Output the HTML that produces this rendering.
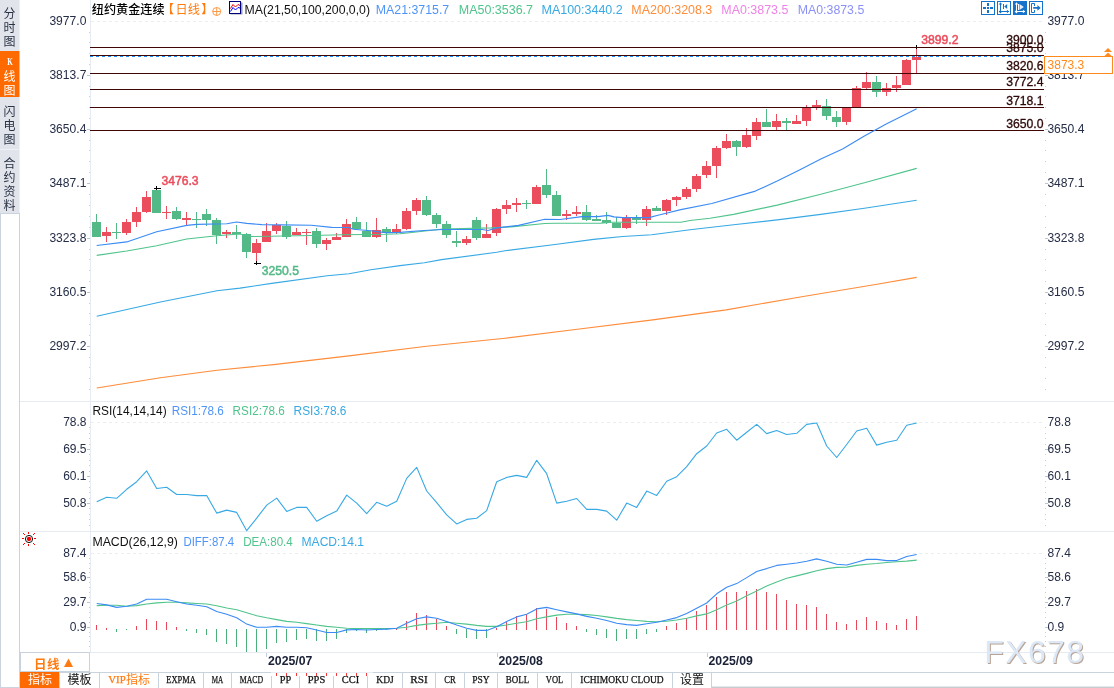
<!DOCTYPE html>
<html lang="zh-CN"><head><meta charset="utf-8"><title>纽约黄金连续 日线</title>
<style>html,body{margin:0;padding:0;background:#fff;overflow:hidden}body{width:1114px;height:688px;position:relative}</style></head>
<body>
<svg width="1114" height="688" viewBox="0 0 1114 688" style="position:absolute;left:0;top:0">
<defs><style>text{font-family:"Liberation Sans","Noto Sans CJK SC",sans-serif;font-size:12px}.cj{font-family:"Liberation Mono","Noto Sans CJK SC",monospace}.ce{shape-rendering:crispEdges}</style></defs>
<rect width="1114" height="688" fill="#fff"/>
<g class="ce">
<rect x="0" y="0" width="19" height="213" fill="#e2e4eb"/>
<rect x="19" y="0" width="1" height="213" fill="#eef0f5"/>
<rect x="0" y="51" width="19" height="46" fill="#ff6a00"/>
<rect x="19" y="51" width="1" height="46" fill="#ffb27a"/>
<rect x="0" y="149" width="19" height="1" fill="#eef0f5"/>
<rect x="0.5" y="213.5" width="19" height="473.5" fill="#fff" stroke="#cbd4de"/>
</g>
<text class="cj" x="9.5" y="17.5" text-anchor="middle" fill="#2a3346">分</text>
<text class="cj" x="9.5" y="31.5" text-anchor="middle" fill="#2a3346">时</text>
<text class="cj" x="9.5" y="45.5" text-anchor="middle" fill="#2a3346">图</text>
<text x="10" y="65.3" text-anchor="middle" fill="#ffffff" style="font-family:'Liberation Serif',serif;font-size:10.5px;font-weight:bold" textLength="5.5" lengthAdjust="spacingAndGlyphs">K</text>
<text class="cj" x="9.5" y="80.5" text-anchor="middle" fill="#ffffff">线</text>
<text class="cj" x="9.5" y="94.5" text-anchor="middle" fill="#ffffff">图</text>
<text class="cj" x="9.5" y="115.5" text-anchor="middle" fill="#2a3346">闪</text>
<text class="cj" x="9.5" y="129.5" text-anchor="middle" fill="#2a3346">电</text>
<text class="cj" x="9.5" y="143.5" text-anchor="middle" fill="#2a3346">图</text>
<text class="cj" x="9.5" y="167.5" text-anchor="middle" fill="#2a3346">合</text>
<text class="cj" x="9.5" y="181.5" text-anchor="middle" fill="#2a3346">约</text>
<text class="cj" x="9.5" y="195.5" text-anchor="middle" fill="#2a3346">资</text>
<text class="cj" x="9.5" y="209.5" text-anchor="middle" fill="#2a3346">料</text>
<g class="ce">
<rect x="20" y="401" width="1094" height="1" fill="#e6ebf1"/>
<rect x="20" y="531" width="1094" height="1" fill="#e6ebf1"/>
<rect x="20" y="652" width="1094" height="1" fill="#e6ebf1"/>
<rect x="20" y="672" width="1094" height="1" fill="#c9d3dd"/>
<rect x="712" y="687" width="402" height="1" fill="#c6cbd0"/>
<rect x="712" y="686" width="402" height="1" fill="#e6e9ec"/>
<rect x="90" y="0" width="1" height="652" fill="#e6ecf2"/>
<line x1="91" x2="1044" y1="21.5" y2="21.5" stroke="#e9eef3" stroke-dasharray="3 3"/>
<line x1="91" x2="1044" y1="422.5" y2="422.5" stroke="#e9eef3" stroke-dasharray="3 3"/>
<line x1="91" x2="1044" y1="553.5" y2="553.5" stroke="#e9eef3" stroke-dasharray="3 3"/>
</g>
<g class="ce">
<rect x="89" y="32" width="1" height="1" fill="#c3cddb"/><rect x="1045" y="32" width="1" height="1" fill="#c3cddb"/>
<rect x="89" y="42" width="1" height="1" fill="#c3cddb"/><rect x="1045" y="42" width="1" height="1" fill="#c3cddb"/>
<rect x="89" y="53" width="1" height="1" fill="#c3cddb"/><rect x="1045" y="53" width="1" height="1" fill="#c3cddb"/>
<rect x="89" y="64" width="1" height="1" fill="#c3cddb"/><rect x="1045" y="64" width="1" height="1" fill="#c3cddb"/>
<rect x="87" y="75" width="3" height="1" fill="#b9c5d3"/><rect x="1045" y="75" width="3" height="1" fill="#b9c5d3"/>
<rect x="89" y="86" width="1" height="1" fill="#c3cddb"/><rect x="1045" y="86" width="1" height="1" fill="#c3cddb"/>
<rect x="89" y="96" width="1" height="1" fill="#c3cddb"/><rect x="1045" y="96" width="1" height="1" fill="#c3cddb"/>
<rect x="89" y="107" width="1" height="1" fill="#c3cddb"/><rect x="1045" y="107" width="1" height="1" fill="#c3cddb"/>
<rect x="89" y="118" width="1" height="1" fill="#c3cddb"/><rect x="1045" y="118" width="1" height="1" fill="#c3cddb"/>
<rect x="87" y="129" width="3" height="1" fill="#b9c5d3"/><rect x="1045" y="129" width="3" height="1" fill="#b9c5d3"/>
<rect x="89" y="140" width="1" height="1" fill="#c3cddb"/><rect x="1045" y="140" width="1" height="1" fill="#c3cddb"/>
<rect x="89" y="150" width="1" height="1" fill="#c3cddb"/><rect x="1045" y="150" width="1" height="1" fill="#c3cddb"/>
<rect x="89" y="161" width="1" height="1" fill="#c3cddb"/><rect x="1045" y="161" width="1" height="1" fill="#c3cddb"/>
<rect x="89" y="172" width="1" height="1" fill="#c3cddb"/><rect x="1045" y="172" width="1" height="1" fill="#c3cddb"/>
<rect x="87" y="183" width="3" height="1" fill="#b9c5d3"/><rect x="1045" y="183" width="3" height="1" fill="#b9c5d3"/>
<rect x="89" y="194" width="1" height="1" fill="#c3cddb"/><rect x="1045" y="194" width="1" height="1" fill="#c3cddb"/>
<rect x="89" y="205" width="1" height="1" fill="#c3cddb"/><rect x="1045" y="205" width="1" height="1" fill="#c3cddb"/>
<rect x="89" y="216" width="1" height="1" fill="#c3cddb"/><rect x="1045" y="216" width="1" height="1" fill="#c3cddb"/>
<rect x="89" y="227" width="1" height="1" fill="#c3cddb"/><rect x="1045" y="227" width="1" height="1" fill="#c3cddb"/>
<rect x="87" y="238" width="3" height="1" fill="#b9c5d3"/><rect x="1045" y="238" width="3" height="1" fill="#b9c5d3"/>
<rect x="89" y="249" width="1" height="1" fill="#c3cddb"/><rect x="1045" y="249" width="1" height="1" fill="#c3cddb"/>
<rect x="89" y="259" width="1" height="1" fill="#c3cddb"/><rect x="1045" y="259" width="1" height="1" fill="#c3cddb"/>
<rect x="89" y="270" width="1" height="1" fill="#c3cddb"/><rect x="1045" y="270" width="1" height="1" fill="#c3cddb"/>
<rect x="89" y="281" width="1" height="1" fill="#c3cddb"/><rect x="1045" y="281" width="1" height="1" fill="#c3cddb"/>
<rect x="87" y="292" width="3" height="1" fill="#b9c5d3"/><rect x="1045" y="292" width="3" height="1" fill="#b9c5d3"/>
<rect x="89" y="303" width="1" height="1" fill="#c3cddb"/><rect x="1045" y="303" width="1" height="1" fill="#c3cddb"/>
<rect x="89" y="313" width="1" height="1" fill="#c3cddb"/><rect x="1045" y="313" width="1" height="1" fill="#c3cddb"/>
<rect x="89" y="324" width="1" height="1" fill="#c3cddb"/><rect x="1045" y="324" width="1" height="1" fill="#c3cddb"/>
<rect x="89" y="335" width="1" height="1" fill="#c3cddb"/><rect x="1045" y="335" width="1" height="1" fill="#c3cddb"/>
<rect x="87" y="346" width="3" height="1" fill="#b9c5d3"/><rect x="1045" y="346" width="3" height="1" fill="#b9c5d3"/>
<rect x="89" y="357" width="1" height="1" fill="#c3cddb"/><rect x="1045" y="357" width="1" height="1" fill="#c3cddb"/>
<rect x="89" y="367" width="1" height="1" fill="#c3cddb"/><rect x="1045" y="367" width="1" height="1" fill="#c3cddb"/>
<rect x="89" y="378" width="1" height="1" fill="#c3cddb"/><rect x="1045" y="378" width="1" height="1" fill="#c3cddb"/>
<rect x="89" y="389" width="1" height="1" fill="#c3cddb"/><rect x="1045" y="389" width="1" height="1" fill="#c3cddb"/>
<rect x="89" y="427" width="1" height="1" fill="#c3cddb"/>
<rect x="1045" y="427" width="1" height="1" fill="#c3cddb"/>
<rect x="89" y="433" width="1" height="1" fill="#c3cddb"/>
<rect x="1045" y="433" width="1" height="1" fill="#c3cddb"/>
<rect x="89" y="438" width="1" height="1" fill="#c3cddb"/>
<rect x="1045" y="438" width="1" height="1" fill="#c3cddb"/>
<rect x="89" y="444" width="1" height="1" fill="#c3cddb"/>
<rect x="1045" y="444" width="1" height="1" fill="#c3cddb"/>
<rect x="87" y="449" width="3" height="1" fill="#b9c5d3"/>
<rect x="1045" y="449" width="3" height="1" fill="#b9c5d3"/>
<rect x="89" y="454" width="1" height="1" fill="#c3cddb"/>
<rect x="1045" y="454" width="1" height="1" fill="#c3cddb"/>
<rect x="89" y="460" width="1" height="1" fill="#c3cddb"/>
<rect x="1045" y="460" width="1" height="1" fill="#c3cddb"/>
<rect x="89" y="465" width="1" height="1" fill="#c3cddb"/>
<rect x="1045" y="465" width="1" height="1" fill="#c3cddb"/>
<rect x="89" y="471" width="1" height="1" fill="#c3cddb"/>
<rect x="1045" y="471" width="1" height="1" fill="#c3cddb"/>
<rect x="87" y="476" width="3" height="1" fill="#b9c5d3"/>
<rect x="1045" y="476" width="3" height="1" fill="#b9c5d3"/>
<rect x="89" y="481" width="1" height="1" fill="#c3cddb"/>
<rect x="1045" y="481" width="1" height="1" fill="#c3cddb"/>
<rect x="89" y="487" width="1" height="1" fill="#c3cddb"/>
<rect x="1045" y="487" width="1" height="1" fill="#c3cddb"/>
<rect x="89" y="492" width="1" height="1" fill="#c3cddb"/>
<rect x="1045" y="492" width="1" height="1" fill="#c3cddb"/>
<rect x="89" y="498" width="1" height="1" fill="#c3cddb"/>
<rect x="1045" y="498" width="1" height="1" fill="#c3cddb"/>
<rect x="87" y="503" width="3" height="1" fill="#b9c5d3"/>
<rect x="1045" y="503" width="3" height="1" fill="#b9c5d3"/>
<rect x="89" y="508" width="1" height="1" fill="#c3cddb"/>
<rect x="1045" y="508" width="1" height="1" fill="#c3cddb"/>
<rect x="89" y="514" width="1" height="1" fill="#c3cddb"/>
<rect x="1045" y="514" width="1" height="1" fill="#c3cddb"/>
<rect x="89" y="519" width="1" height="1" fill="#c3cddb"/>
<rect x="1045" y="519" width="1" height="1" fill="#c3cddb"/>
<rect x="89" y="525" width="1" height="1" fill="#c3cddb"/>
<rect x="1045" y="525" width="1" height="1" fill="#c3cddb"/>
<rect x="89" y="558" width="1" height="1" fill="#c3cddb"/>
<rect x="1045" y="558" width="1" height="1" fill="#c3cddb"/>
<rect x="89" y="563" width="1" height="1" fill="#c3cddb"/>
<rect x="1045" y="563" width="1" height="1" fill="#c3cddb"/>
<rect x="89" y="568" width="1" height="1" fill="#c3cddb"/>
<rect x="1045" y="568" width="1" height="1" fill="#c3cddb"/>
<rect x="89" y="572" width="1" height="1" fill="#c3cddb"/>
<rect x="1045" y="572" width="1" height="1" fill="#c3cddb"/>
<rect x="87" y="577" width="3" height="1" fill="#b9c5d3"/>
<rect x="1045" y="577" width="3" height="1" fill="#b9c5d3"/>
<rect x="89" y="582" width="1" height="1" fill="#c3cddb"/>
<rect x="1045" y="582" width="1" height="1" fill="#c3cddb"/>
<rect x="89" y="587" width="1" height="1" fill="#c3cddb"/>
<rect x="1045" y="587" width="1" height="1" fill="#c3cddb"/>
<rect x="89" y="592" width="1" height="1" fill="#c3cddb"/>
<rect x="1045" y="592" width="1" height="1" fill="#c3cddb"/>
<rect x="89" y="597" width="1" height="1" fill="#c3cddb"/>
<rect x="1045" y="597" width="1" height="1" fill="#c3cddb"/>
<rect x="87" y="602" width="3" height="1" fill="#b9c5d3"/>
<rect x="1045" y="602" width="3" height="1" fill="#b9c5d3"/>
<rect x="89" y="607" width="1" height="1" fill="#c3cddb"/>
<rect x="1045" y="607" width="1" height="1" fill="#c3cddb"/>
<rect x="89" y="612" width="1" height="1" fill="#c3cddb"/>
<rect x="1045" y="612" width="1" height="1" fill="#c3cddb"/>
<rect x="89" y="617" width="1" height="1" fill="#c3cddb"/>
<rect x="1045" y="617" width="1" height="1" fill="#c3cddb"/>
<rect x="89" y="622" width="1" height="1" fill="#c3cddb"/>
<rect x="1045" y="622" width="1" height="1" fill="#c3cddb"/>
<rect x="87" y="627" width="3" height="1" fill="#b9c5d3"/>
<rect x="1045" y="627" width="3" height="1" fill="#b9c5d3"/>
<rect x="89" y="632" width="1" height="1" fill="#c3cddb"/>
<rect x="1045" y="632" width="1" height="1" fill="#c3cddb"/>
<rect x="89" y="636" width="1" height="1" fill="#c3cddb"/>
<rect x="1045" y="636" width="1" height="1" fill="#c3cddb"/>
<rect x="89" y="641" width="1" height="1" fill="#c3cddb"/>
<rect x="1045" y="641" width="1" height="1" fill="#c3cddb"/>
<rect x="89" y="646" width="1" height="1" fill="#c3cddb"/>
<rect x="1045" y="646" width="1" height="1" fill="#c3cddb"/>
</g>
<text x="49.4" y="24.9" fill="#252d47" textLength="37" lengthAdjust="spacingAndGlyphs">3977.0</text>
<text x="1047.4" y="24.9" fill="#252d47" textLength="37" lengthAdjust="spacingAndGlyphs">3977.0</text>
<text x="49.4" y="79.0" fill="#252d47" textLength="37" lengthAdjust="spacingAndGlyphs">3813.7</text>
<text x="1047.4" y="79.0" fill="#252d47" textLength="37" lengthAdjust="spacingAndGlyphs">3813.7</text>
<text x="49.4" y="133.1" fill="#252d47" textLength="37" lengthAdjust="spacingAndGlyphs">3650.4</text>
<text x="1047.4" y="133.1" fill="#252d47" textLength="37" lengthAdjust="spacingAndGlyphs">3650.4</text>
<text x="49.4" y="187.0" fill="#252d47" textLength="37" lengthAdjust="spacingAndGlyphs">3487.1</text>
<text x="1047.4" y="187.0" fill="#252d47" textLength="37" lengthAdjust="spacingAndGlyphs">3487.1</text>
<text x="49.4" y="241.9" fill="#252d47" textLength="37" lengthAdjust="spacingAndGlyphs">3323.8</text>
<text x="1047.4" y="241.9" fill="#252d47" textLength="37" lengthAdjust="spacingAndGlyphs">3323.8</text>
<text x="49.4" y="296.1" fill="#252d47" textLength="37" lengthAdjust="spacingAndGlyphs">3160.5</text>
<text x="1047.4" y="296.1" fill="#252d47" textLength="37" lengthAdjust="spacingAndGlyphs">3160.5</text>
<text x="49.4" y="349.8" fill="#252d47" textLength="37" lengthAdjust="spacingAndGlyphs">2997.2</text>
<text x="1047.4" y="349.8" fill="#252d47" textLength="37" lengthAdjust="spacingAndGlyphs">2997.2</text>
<text x="86.5" y="425.8" text-anchor="end" fill="#252d47">78.8</text>
<text x="1047.5" y="425.8" fill="#252d47">78.8</text>
<text x="86.5" y="452.8" text-anchor="end" fill="#252d47">69.5</text>
<text x="1047.5" y="452.8" fill="#252d47">69.5</text>
<text x="86.5" y="479.8" text-anchor="end" fill="#252d47">60.1</text>
<text x="1047.5" y="479.8" fill="#252d47">60.1</text>
<text x="86.5" y="506.8" text-anchor="end" fill="#252d47">50.8</text>
<text x="1047.5" y="506.8" fill="#252d47">50.8</text>
<text x="86.5" y="556.9" text-anchor="end" fill="#252d47">87.4</text>
<text x="1047.5" y="556.9" fill="#252d47">87.4</text>
<text x="86.5" y="581.0" text-anchor="end" fill="#252d47">58.6</text>
<text x="1047.5" y="581.0" fill="#252d47">58.6</text>
<text x="86.5" y="606.0" text-anchor="end" fill="#252d47">29.7</text>
<text x="1047.5" y="606.0" fill="#252d47">29.7</text>
<text x="86.5" y="630.9" text-anchor="end" fill="#252d47">0.9</text>
<text x="1047.5" y="630.9" fill="#252d47">0.9</text>
<g class="ce">
<rect x="96" y="214" width="1" height="23" fill="#53b987"/>
<rect x="92" y="222" width="9" height="15" fill="#53b987"/>
<rect x="106" y="227" width="1" height="15" fill="#eb4d5c"/>
<rect x="102" y="232" width="9" height="4" fill="#eb4d5c"/>
<rect x="116" y="223" width="1" height="16" fill="#53b987"/>
<rect x="112" y="232" width="9" height="1" fill="#53b987"/>
<rect x="126" y="219" width="1" height="16" fill="#eb4d5c"/>
<rect x="122" y="222" width="9" height="11" fill="#eb4d5c"/>
<rect x="136" y="207" width="1" height="20" fill="#eb4d5c"/>
<rect x="132" y="212" width="9" height="10" fill="#eb4d5c"/>
<rect x="146" y="191" width="1" height="22" fill="#eb4d5c"/>
<rect x="142" y="197" width="9" height="15" fill="#eb4d5c"/>
<rect x="156" y="188" width="1" height="25" fill="#53b987"/>
<rect x="152" y="190" width="9" height="23" fill="#53b987"/>
<rect x="166" y="206" width="1" height="13" fill="#eb4d5c"/>
<rect x="162" y="212" width="9" height="1" fill="#eb4d5c"/>
<rect x="176" y="207" width="1" height="13" fill="#53b987"/>
<rect x="172" y="211" width="9" height="8" fill="#53b987"/>
<rect x="186" y="212" width="1" height="13" fill="#eb4d5c"/>
<rect x="182" y="218" width="9" height="2" fill="#eb4d5c"/>
<rect x="196" y="212" width="1" height="16" fill="#53b987"/>
<rect x="192" y="219" width="9" height="1" fill="#53b987"/>
<rect x="206" y="209" width="1" height="17" fill="#53b987"/>
<rect x="202" y="214" width="9" height="6" fill="#53b987"/>
<rect x="216" y="218" width="1" height="26" fill="#53b987"/>
<rect x="212" y="220" width="9" height="15" fill="#53b987"/>
<rect x="226" y="230" width="1" height="8" fill="#eb4d5c"/>
<rect x="222" y="232" width="9" height="2" fill="#eb4d5c"/>
<rect x="236" y="225" width="1" height="14" fill="#53b987"/>
<rect x="232" y="232" width="9" height="2" fill="#53b987"/>
<rect x="246" y="233" width="1" height="25" fill="#53b987"/>
<rect x="242" y="234" width="9" height="18" fill="#53b987"/>
<rect x="256" y="239" width="1" height="24" fill="#eb4d5c"/>
<rect x="252" y="243" width="9" height="10" fill="#eb4d5c"/>
<rect x="266" y="223" width="1" height="19" fill="#eb4d5c"/>
<rect x="262" y="231" width="9" height="11" fill="#eb4d5c"/>
<rect x="276" y="223" width="1" height="11" fill="#eb4d5c"/>
<rect x="272" y="225" width="9" height="6" fill="#eb4d5c"/>
<rect x="286" y="221" width="1" height="18" fill="#53b987"/>
<rect x="282" y="226" width="9" height="11" fill="#53b987"/>
<rect x="296" y="228" width="1" height="7" fill="#eb4d5c"/>
<rect x="292" y="232" width="9" height="3" fill="#eb4d5c"/>
<rect x="306" y="229" width="1" height="16" fill="#eb4d5c"/>
<rect x="302" y="232" width="9" height="1" fill="#eb4d5c"/>
<rect x="316" y="228" width="1" height="20" fill="#53b987"/>
<rect x="312" y="231" width="9" height="13" fill="#53b987"/>
<rect x="326" y="238" width="1" height="12" fill="#eb4d5c"/>
<rect x="322" y="240" width="9" height="4" fill="#eb4d5c"/>
<rect x="336" y="233" width="1" height="7" fill="#eb4d5c"/>
<rect x="332" y="237" width="9" height="3" fill="#eb4d5c"/>
<rect x="346" y="219" width="1" height="18" fill="#eb4d5c"/>
<rect x="342" y="224" width="9" height="13" fill="#eb4d5c"/>
<rect x="356" y="217" width="1" height="12" fill="#53b987"/>
<rect x="352" y="222" width="9" height="7" fill="#53b987"/>
<rect x="366" y="222" width="1" height="15" fill="#53b987"/>
<rect x="362" y="231" width="9" height="6" fill="#53b987"/>
<rect x="376" y="218" width="1" height="20" fill="#eb4d5c"/>
<rect x="372" y="230" width="9" height="7" fill="#eb4d5c"/>
<rect x="386" y="227" width="1" height="15" fill="#53b987"/>
<rect x="382" y="229" width="9" height="4" fill="#53b987"/>
<rect x="396" y="224" width="1" height="10" fill="#eb4d5c"/>
<rect x="392" y="229" width="9" height="4" fill="#eb4d5c"/>
<rect x="406" y="208" width="1" height="22" fill="#eb4d5c"/>
<rect x="402" y="211" width="9" height="18" fill="#eb4d5c"/>
<rect x="416" y="198" width="1" height="17" fill="#eb4d5c"/>
<rect x="412" y="200" width="9" height="11" fill="#eb4d5c"/>
<rect x="426" y="196" width="1" height="20" fill="#53b987"/>
<rect x="422" y="200" width="9" height="15" fill="#53b987"/>
<rect x="436" y="213" width="1" height="15" fill="#53b987"/>
<rect x="432" y="215" width="9" height="9" fill="#53b987"/>
<rect x="446" y="221" width="1" height="17" fill="#53b987"/>
<rect x="442" y="224" width="9" height="11" fill="#53b987"/>
<rect x="456" y="231" width="1" height="16" fill="#53b987"/>
<rect x="452" y="241" width="9" height="2" fill="#53b987"/>
<rect x="466" y="236" width="1" height="9" fill="#eb4d5c"/>
<rect x="462" y="239" width="9" height="4" fill="#eb4d5c"/>
<rect x="476" y="217" width="1" height="23" fill="#53b987"/>
<rect x="472" y="220" width="9" height="18" fill="#53b987"/>
<rect x="486" y="224" width="1" height="14" fill="#eb4d5c"/>
<rect x="482" y="234" width="9" height="4" fill="#eb4d5c"/>
<rect x="496" y="208" width="1" height="28" fill="#eb4d5c"/>
<rect x="492" y="209" width="9" height="24" fill="#eb4d5c"/>
<rect x="506" y="200" width="1" height="14" fill="#eb4d5c"/>
<rect x="502" y="205" width="9" height="4" fill="#eb4d5c"/>
<rect x="516" y="198" width="1" height="14" fill="#eb4d5c"/>
<rect x="512" y="203" width="9" height="2" fill="#eb4d5c"/>
<rect x="526" y="200" width="1" height="9" fill="#53b987"/>
<rect x="522" y="203" width="9" height="1" fill="#53b987"/>
<rect x="536" y="185" width="1" height="19" fill="#eb4d5c"/>
<rect x="532" y="187" width="9" height="17" fill="#eb4d5c"/>
<rect x="546" y="169" width="1" height="29" fill="#53b987"/>
<rect x="542" y="185" width="9" height="10" fill="#53b987"/>
<rect x="556" y="191" width="1" height="25" fill="#53b987"/>
<rect x="552" y="195" width="9" height="21" fill="#53b987"/>
<rect x="566" y="210" width="1" height="10" fill="#eb4d5c"/>
<rect x="562" y="214" width="9" height="2" fill="#eb4d5c"/>
<rect x="576" y="206" width="1" height="10" fill="#eb4d5c"/>
<rect x="572" y="212" width="9" height="2" fill="#eb4d5c"/>
<rect x="586" y="205" width="1" height="16" fill="#53b987"/>
<rect x="582" y="212" width="9" height="8" fill="#53b987"/>
<rect x="596" y="215" width="1" height="6" fill="#53b987"/>
<rect x="592" y="219" width="9" height="2" fill="#53b987"/>
<rect x="606" y="212" width="1" height="12" fill="#53b987"/>
<rect x="602" y="220" width="9" height="3" fill="#53b987"/>
<rect x="616" y="217" width="1" height="11" fill="#53b987"/>
<rect x="612" y="223" width="9" height="5" fill="#53b987"/>
<rect x="626" y="215" width="1" height="14" fill="#eb4d5c"/>
<rect x="622" y="217" width="9" height="11" fill="#eb4d5c"/>
<rect x="636" y="215" width="1" height="9" fill="#53b987"/>
<rect x="632" y="218" width="9" height="2" fill="#53b987"/>
<rect x="646" y="206" width="1" height="20" fill="#eb4d5c"/>
<rect x="642" y="209" width="9" height="11" fill="#eb4d5c"/>
<rect x="656" y="206" width="1" height="5" fill="#53b987"/>
<rect x="652" y="208" width="9" height="3" fill="#53b987"/>
<rect x="666" y="199" width="1" height="16" fill="#eb4d5c"/>
<rect x="662" y="200" width="9" height="11" fill="#eb4d5c"/>
<rect x="676" y="196" width="1" height="10" fill="#eb4d5c"/>
<rect x="672" y="197" width="9" height="3" fill="#eb4d5c"/>
<rect x="686" y="187" width="1" height="12" fill="#eb4d5c"/>
<rect x="682" y="189" width="9" height="8" fill="#eb4d5c"/>
<rect x="696" y="174" width="1" height="18" fill="#eb4d5c"/>
<rect x="692" y="176" width="9" height="13" fill="#eb4d5c"/>
<rect x="706" y="161" width="1" height="17" fill="#eb4d5c"/>
<rect x="702" y="166" width="9" height="9" fill="#eb4d5c"/>
<rect x="716" y="146" width="1" height="32" fill="#eb4d5c"/>
<rect x="712" y="148" width="9" height="18" fill="#eb4d5c"/>
<rect x="726" y="134" width="1" height="15" fill="#eb4d5c"/>
<rect x="722" y="141" width="9" height="7" fill="#eb4d5c"/>
<rect x="736" y="140" width="1" height="16" fill="#53b987"/>
<rect x="732" y="141" width="9" height="6" fill="#53b987"/>
<rect x="746" y="128" width="1" height="20" fill="#eb4d5c"/>
<rect x="742" y="135" width="9" height="12" fill="#eb4d5c"/>
<rect x="756" y="118" width="1" height="22" fill="#eb4d5c"/>
<rect x="752" y="122" width="9" height="14" fill="#eb4d5c"/>
<rect x="766" y="109" width="1" height="18" fill="#53b987"/>
<rect x="762" y="122" width="9" height="5" fill="#53b987"/>
<rect x="776" y="114" width="1" height="16" fill="#eb4d5c"/>
<rect x="772" y="121" width="9" height="6" fill="#eb4d5c"/>
<rect x="786" y="118" width="1" height="12" fill="#53b987"/>
<rect x="782" y="121" width="9" height="2" fill="#53b987"/>
<rect x="796" y="115" width="1" height="9" fill="#eb4d5c"/>
<rect x="792" y="121" width="9" height="3" fill="#eb4d5c"/>
<rect x="806" y="105" width="1" height="21" fill="#eb4d5c"/>
<rect x="802" y="108" width="9" height="13" fill="#eb4d5c"/>
<rect x="816" y="100" width="1" height="10" fill="#eb4d5c"/>
<rect x="812" y="105" width="9" height="2" fill="#eb4d5c"/>
<rect x="826" y="99" width="1" height="21" fill="#53b987"/>
<rect x="822" y="106" width="9" height="10" fill="#53b987"/>
<rect x="836" y="111" width="1" height="16" fill="#53b987"/>
<rect x="832" y="117" width="9" height="5" fill="#53b987"/>
<rect x="846" y="108" width="1" height="17" fill="#eb4d5c"/>
<rect x="842" y="108" width="9" height="14" fill="#eb4d5c"/>
<rect x="856" y="86" width="1" height="21" fill="#eb4d5c"/>
<rect x="852" y="88" width="9" height="19" fill="#eb4d5c"/>
<rect x="866" y="72" width="1" height="17" fill="#eb4d5c"/>
<rect x="862" y="82" width="9" height="6" fill="#eb4d5c"/>
<rect x="876" y="76" width="1" height="21" fill="#53b987"/>
<rect x="872" y="82" width="9" height="10" fill="#53b987"/>
<rect x="886" y="83" width="1" height="13" fill="#eb4d5c"/>
<rect x="882" y="88" width="9" height="4" fill="#eb4d5c"/>
<rect x="896" y="76" width="1" height="16" fill="#eb4d5c"/>
<rect x="892" y="85" width="9" height="3" fill="#eb4d5c"/>
<rect x="906" y="59" width="1" height="26" fill="#eb4d5c"/>
<rect x="902" y="60" width="9" height="25" fill="#eb4d5c"/>
<rect x="916" y="47" width="1" height="26" fill="#eb4d5c"/>
<rect x="912" y="57" width="9" height="3" fill="#eb4d5c"/>
<rect x="154" y="188" width="7" height="1" fill="#000"/><rect x="156" y="186" width="1" height="4" fill="#000"/>
<rect x="254" y="263" width="7" height="1" fill="#000"/><rect x="256" y="261" width="1" height="4" fill="#000"/>
<rect x="916" y="45" width="1" height="4" fill="#000"/>
</g>
<text x="161.4" y="185" fill="#eb4d5c" stroke="#eb4d5c" stroke-width="0.5" textLength="37.2" lengthAdjust="spacingAndGlyphs">3476.3</text>
<text x="261.8" y="274.7" fill="#53b987" stroke="#53b987" stroke-width="0.5" textLength="37.2" lengthAdjust="spacingAndGlyphs">3250.5</text>
<text x="921.3" y="43.5" fill="#eb4d5c" stroke="#eb4d5c" stroke-width="0.5" textLength="37.2" lengthAdjust="spacingAndGlyphs">3899.2</text>
<g class="ce">
<rect x="90" y="47" width="954" height="1" fill="#400505"/>
<rect x="90" y="55" width="954" height="1" fill="#400505"/>
<rect x="90" y="73" width="954" height="1" fill="#400505"/>
<rect x="90" y="89" width="954" height="1" fill="#400505"/>
<rect x="90" y="107" width="954" height="1" fill="#400505"/>
<rect x="90" y="130" width="954" height="1" fill="#400505"/>
<line x1="90" x2="1044" y1="56.5" y2="56.5" stroke="#1e8fff" stroke-dasharray="3 3"/>
</g>
<text x="1006.2" y="44.2" fill="#2e0808" stroke="#2e0808" stroke-width="0.3" textLength="37.3" lengthAdjust="spacingAndGlyphs">3900.0</text>
<text x="1006.2" y="52.2" fill="#2e0808" stroke="#2e0808" stroke-width="0.3" textLength="37.3" lengthAdjust="spacingAndGlyphs">3875.0</text>
<text x="1006.2" y="70.2" fill="#2e0808" stroke="#2e0808" stroke-width="0.3" textLength="37.3" lengthAdjust="spacingAndGlyphs">3820.6</text>
<text x="1006.2" y="86.2" fill="#2e0808" stroke="#2e0808" stroke-width="0.3" textLength="37.3" lengthAdjust="spacingAndGlyphs">3772.4</text>
<text x="1006.2" y="104.7" fill="#2e0808" stroke="#2e0808" stroke-width="0.3" textLength="37.3" lengthAdjust="spacingAndGlyphs">3718.1</text>
<text x="1006.2" y="127.7" fill="#2e0808" stroke="#2e0808" stroke-width="0.3" textLength="37.3" lengthAdjust="spacingAndGlyphs">3650.0</text>
<polyline points="96.7,388.0 160.4,377.8 217.0,370.2 273.5,364.6 349.0,355.9 424.4,346.5 505.0,338.2 575.4,329.5 650.8,320.1 726.2,309.9 801.7,296.7 877.0,284.3 916.7,277.4" fill="none" stroke="#ff8c3a" stroke-width="1.1" stroke-linejoin="round"/>
<polyline points="96.7,316.3 160.4,302.0 217.0,290.7 240.0,288.1 273.5,283.1 327.2,275.7 349.0,273.7 370.8,269.8 400.0,265.6 424.4,262.8 441.5,259.6 496.7,252.3 505.0,250.8 555.0,244.5 593.6,239.4 622.7,236.5 651.7,234.7 690.0,229.7 733.6,224.7 777.2,219.9 820.8,214.4 864.4,208.3 916.7,200.2" fill="none" stroke="#38a9e4" stroke-width="1.1" stroke-linejoin="round"/>
<polyline points="96.7,255.4 126.7,251.0 156.7,245.8 186.7,239.0 216.7,235.8 240.0,234.0 251.6,236.5 312.7,235.5 341.7,234.8 385.3,234.3 400.0,233.8 409.5,232.7 443.0,229.0 491.0,227.9 511.3,226.9 544.7,223.5 555.0,223.3 601.0,223.1 611.0,222.2 680.8,222.2 690.0,220.5 710.0,218.3 733.6,214.4 777.2,205.1 820.8,194.2 864.4,182.8 916.7,168.4" fill="none" stroke="#4fc48c" stroke-width="1.1" stroke-linejoin="round"/>
<polyline points="96.7,245.5 126.7,241.9 156.7,231.7 186.7,225.4 196.7,224.4 226.7,223.7 236.7,222.0 246.7,223.4 261.8,224.6 282.2,224.9 311.2,225.3 331.6,227.4 348.3,227.5 353.4,229.2 370.8,230.7 385.3,232.6 400.0,232.4 424.0,230.5 443.0,229.5 482.2,229.5 488.0,230.5 496.7,227.9 518.5,225.4 544.7,219.3 560.0,219.5 582.0,216.6 598.0,216.6 608.0,215.4 614.0,216.9 622.7,217.6 648.8,217.6 659.0,215.0 680.8,209.6 711.8,203.5 755.4,191.1 777.2,181.1 799.0,170.2 820.8,158.9 842.6,149.0 864.4,136.0 886.2,124.0 916.7,108.8" fill="none" stroke="#3b8bf5" stroke-width="1.1" stroke-linejoin="round"/>
<polyline points="96.7,501.8 106.7,497.3 116.7,498.3 126.7,489.3 136.7,481.7 146.7,470.9 156.7,488.5 166.7,487.3 176.7,494.5 186.7,494.5 196.7,495.6 206.7,495.6 216.7,513.1 226.7,510.1 236.7,512.4 246.7,530.7 256.7,518.2 266.7,505.1 276.7,498.1 286.7,511.4 296.7,507.4 306.7,507.4 316.7,521.2 326.7,515.7 336.7,511.1 346.7,495.1 356.7,503.1 366.7,513.6 376.7,502.3 386.7,506.3 396.7,501.3 406.7,478.4 416.7,467.4 426.7,491.0 436.7,502.6 446.7,514.9 456.7,523.9 466.7,519.4 476.7,518.2 486.7,510.6 496.7,481.7 506.7,477.4 516.7,475.4 526.7,477.4 536.7,460.3 546.7,473.7 556.7,503.1 566.7,501.3 576.7,498.5 586.7,509.4 596.7,509.4 606.7,511.1 616.7,520.2 626.7,503.1 636.7,507.4 646.7,491.1 656.7,495.4 666.7,481.3 676.7,476.7 686.7,466.6 696.7,453.7 706.7,446.0 716.7,433.0 726.7,429.3 736.7,440.2 746.7,432.2 756.7,424.4 766.7,433.6 776.7,430.5 786.7,434.5 796.7,433.3 806.7,424.4 816.7,423.0 826.7,446.0 836.7,457.5 846.7,444.5 856.7,431.0 866.7,428.2 876.7,445.1 886.7,442.2 896.7,440.2 906.7,425.3 916.7,423.0" fill="none" stroke="#38a9e4" stroke-width="1.1" stroke-linejoin="round"/>
<g class="ce">
<rect x="96" y="625" width="1" height="5" fill="#e8485a"/>
<rect x="106" y="628" width="1" height="2" fill="#e8485a"/>
<rect x="116" y="629" width="1" height="3" fill="#4db07c"/>
<rect x="126" y="629" width="1" height="1" fill="#4db07c"/>
<rect x="136" y="626" width="1" height="4" fill="#e8485a"/>
<rect x="146" y="619" width="1" height="11" fill="#e8485a"/>
<rect x="156" y="621" width="1" height="9" fill="#e8485a"/>
<rect x="166" y="622" width="1" height="8" fill="#e8485a"/>
<rect x="176" y="627" width="1" height="3" fill="#e8485a"/>
<rect x="186" y="629" width="1" height="2" fill="#4db07c"/>
<rect x="196" y="629" width="1" height="4" fill="#4db07c"/>
<rect x="206" y="629" width="1" height="6" fill="#4db07c"/>
<rect x="216" y="629" width="1" height="13" fill="#4db07c"/>
<rect x="226" y="629" width="1" height="15" fill="#4db07c"/>
<rect x="236" y="629" width="1" height="18" fill="#4db07c"/>
<rect x="246" y="629" width="1" height="23" fill="#4db07c"/>
<rect x="256" y="629" width="1" height="23" fill="#4db07c"/>
<rect x="266" y="629" width="1" height="20" fill="#4db07c"/>
<rect x="276" y="629" width="1" height="14" fill="#4db07c"/>
<rect x="286" y="629" width="1" height="13" fill="#4db07c"/>
<rect x="296" y="629" width="1" height="11" fill="#4db07c"/>
<rect x="306" y="629" width="1" height="10" fill="#4db07c"/>
<rect x="316" y="629" width="1" height="12" fill="#4db07c"/>
<rect x="326" y="629" width="1" height="12" fill="#4db07c"/>
<rect x="336" y="629" width="1" height="10" fill="#4db07c"/>
<rect x="346" y="629" width="1" height="4" fill="#4db07c"/>
<rect x="356" y="629" width="1" height="2" fill="#4db07c"/>
<rect x="366" y="629" width="1" height="4" fill="#4db07c"/>
<rect x="376" y="629" width="1" height="2" fill="#4db07c"/>
<rect x="386" y="629" width="1" height="1" fill="#4db07c"/>
<rect x="396" y="628" width="1" height="2" fill="#e8485a"/>
<rect x="406" y="621" width="1" height="9" fill="#e8485a"/>
<rect x="416" y="613" width="1" height="17" fill="#e8485a"/>
<rect x="426" y="615" width="1" height="15" fill="#e8485a"/>
<rect x="436" y="619" width="1" height="11" fill="#e8485a"/>
<rect x="446" y="626" width="1" height="4" fill="#e8485a"/>
<rect x="456" y="629" width="1" height="5" fill="#4db07c"/>
<rect x="466" y="629" width="1" height="9" fill="#4db07c"/>
<rect x="476" y="629" width="1" height="10" fill="#4db07c"/>
<rect x="486" y="629" width="1" height="9" fill="#4db07c"/>
<rect x="496" y="628" width="1" height="2" fill="#e8485a"/>
<rect x="506" y="621" width="1" height="9" fill="#e8485a"/>
<rect x="516" y="616" width="1" height="14" fill="#e8485a"/>
<rect x="526" y="614" width="1" height="16" fill="#e8485a"/>
<rect x="536" y="608" width="1" height="22" fill="#e8485a"/>
<rect x="546" y="609" width="1" height="21" fill="#e8485a"/>
<rect x="556" y="617" width="1" height="13" fill="#e8485a"/>
<rect x="566" y="623" width="1" height="7" fill="#e8485a"/>
<rect x="576" y="626" width="1" height="4" fill="#e8485a"/>
<rect x="586" y="629" width="1" height="3" fill="#4db07c"/>
<rect x="596" y="629" width="1" height="6" fill="#4db07c"/>
<rect x="606" y="629" width="1" height="9" fill="#4db07c"/>
<rect x="616" y="629" width="1" height="12" fill="#4db07c"/>
<rect x="626" y="629" width="1" height="10" fill="#4db07c"/>
<rect x="636" y="629" width="1" height="10" fill="#4db07c"/>
<rect x="646" y="629" width="1" height="5" fill="#4db07c"/>
<rect x="656" y="629" width="1" height="3" fill="#4db07c"/>
<rect x="666" y="626" width="1" height="4" fill="#e8485a"/>
<rect x="676" y="623" width="1" height="7" fill="#e8485a"/>
<rect x="686" y="618" width="1" height="12" fill="#e8485a"/>
<rect x="696" y="611" width="1" height="19" fill="#e8485a"/>
<rect x="706" y="605" width="1" height="25" fill="#e8485a"/>
<rect x="716" y="597" width="1" height="33" fill="#e8485a"/>
<rect x="726" y="592" width="1" height="38" fill="#e8485a"/>
<rect x="736" y="592" width="1" height="38" fill="#e8485a"/>
<rect x="746" y="591" width="1" height="39" fill="#e8485a"/>
<rect x="756" y="589" width="1" height="41" fill="#e8485a"/>
<rect x="766" y="592" width="1" height="38" fill="#e8485a"/>
<rect x="776" y="594" width="1" height="36" fill="#e8485a"/>
<rect x="786" y="600" width="1" height="30" fill="#e8485a"/>
<rect x="796" y="604" width="1" height="26" fill="#e8485a"/>
<rect x="806" y="605" width="1" height="25" fill="#e8485a"/>
<rect x="816" y="607" width="1" height="23" fill="#e8485a"/>
<rect x="826" y="614" width="1" height="16" fill="#e8485a"/>
<rect x="836" y="622" width="1" height="8" fill="#e8485a"/>
<rect x="846" y="624" width="1" height="6" fill="#e8485a"/>
<rect x="856" y="620" width="1" height="10" fill="#e8485a"/>
<rect x="866" y="617" width="1" height="13" fill="#e8485a"/>
<rect x="876" y="621" width="1" height="9" fill="#e8485a"/>
<rect x="886" y="623" width="1" height="7" fill="#e8485a"/>
<rect x="896" y="625" width="1" height="5" fill="#e8485a"/>
<rect x="906" y="619" width="1" height="11" fill="#e8485a"/>
<rect x="916" y="616" width="1" height="14" fill="#e8485a"/>
</g>
<polyline points="96.7,605.6 106.7,605.3 116.7,605.3 126.7,606.2 136.7,605.6 146.7,604.0 156.7,602.9 166.7,602.2 176.7,602.2 186.7,602.9 196.7,603.5 206.7,604.0 216.7,605.8 226.7,608.0 236.7,609.7 246.7,612.8 256.7,615.7 266.7,617.8 276.7,619.6 286.7,621.4 296.7,622.3 306.7,623.6 316.7,625.0 326.7,626.4 336.7,627.3 346.7,628.2 356.7,628.6 366.7,628.6 376.7,628.6 386.7,628.6 396.7,628.2 406.7,627.3 416.7,625.4 426.7,624.1 436.7,623.2 446.7,622.3 456.7,623.2 466.7,624.1 476.7,625.4 486.7,626.4 496.7,626.4 506.7,625.0 516.7,623.2 526.7,621.8 536.7,618.7 546.7,616.9 556.7,615.1 566.7,614.2 576.7,614.2 586.7,614.6 596.7,615.5 606.7,616.9 616.7,618.4 626.7,619.6 636.7,620.5 646.7,621.4 656.7,621.8 666.7,621.2 676.7,620.0 686.7,618.3 696.7,615.9 706.7,613.9 716.7,609.8 726.7,605.0 736.7,601.1 746.7,595.7 756.7,590.9 766.7,586.0 776.7,581.9 786.7,578.3 796.7,575.9 806.7,573.4 816.7,570.8 826.7,568.6 836.7,567.4 846.7,567.1 856.7,565.4 866.7,564.2 876.7,563.5 886.7,562.5 896.7,561.8 906.7,561.1 916.7,560.1" fill="none" stroke="#4fc48c" stroke-width="1.1" stroke-linejoin="round"/>
<polyline points="96.7,603.5 106.7,604.9 116.7,607.4 126.7,606.2 136.7,604.0 146.7,599.2 156.7,599.2 166.7,599.2 176.7,601.7 186.7,604.0 196.7,605.3 206.7,606.7 216.7,611.5 226.7,614.2 236.7,617.8 246.7,624.1 256.7,627.3 266.7,627.3 276.7,626.4 286.7,627.2 296.7,627.2 306.7,627.7 316.7,630.0 326.7,632.5 336.7,632.5 346.7,629.9 356.7,629.5 366.7,630.0 376.7,629.5 386.7,629.1 396.7,628.2 406.7,623.2 416.7,618.7 426.7,616.9 436.7,618.2 446.7,621.4 456.7,625.0 466.7,628.2 476.7,630.4 486.7,630.4 496.7,626.8 506.7,621.4 516.7,616.9 526.7,614.2 536.7,608.9 546.7,607.4 556.7,609.7 566.7,611.9 576.7,613.9 586.7,616.4 596.7,618.2 606.7,620.5 616.7,623.2 626.7,624.6 636.7,625.4 646.7,623.8 656.7,622.3 666.7,620.0 676.7,617.6 686.7,613.4 696.7,608.3 706.7,603.0 716.7,593.8 726.7,587.3 736.7,583.6 746.7,577.6 756.7,571.5 766.7,568.6 776.7,565.4 786.7,564.2 796.7,563.0 806.7,561.3 816.7,558.9 826.7,561.3 836.7,564.2 846.7,565.0 856.7,562.3 866.7,559.4 876.7,559.4 886.7,560.6 896.7,560.6 906.7,556.5 916.7,554.5" fill="none" stroke="#3b8bf5" stroke-width="1.1" stroke-linejoin="round"/>
<text x="244.6" y="14.0" fill="#111" textLength="125.4" lengthAdjust="spacingAndGlyphs">MA(21,50,100,200,0,0)</text>
<text x="375.8" y="14.0" fill="#4f94f7" textLength="73.4" lengthAdjust="spacingAndGlyphs">MA21:3715.7</text>
<text x="458.8" y="14.0" fill="#4fc48c" textLength="74.2" lengthAdjust="spacingAndGlyphs">MA50:3536.7</text>
<text x="541.5" y="14.0" fill="#38a9e4" textLength="81.2" lengthAdjust="spacingAndGlyphs">MA100:3440.2</text>
<text x="631.3" y="14.0" fill="#ff8c3a" textLength="81.0" lengthAdjust="spacingAndGlyphs">MA200:3208.3</text>
<text x="721.3" y="14.0" fill="#ee82e6" textLength="67.1" lengthAdjust="spacingAndGlyphs">MA0:3873.5</text>
<text x="797.7" y="14.0" fill="#8b90f7" textLength="66.6" lengthAdjust="spacingAndGlyphs">MA0:3873.5</text>
<text x="91.8" y="14.3" fill="#000" textLength="72.8" lengthAdjust="spacingAndGlyphs" style="font-weight:500">纽约黄金连续</text>
<text x="161.9" y="14.4" fill="#ff7a0f">【</text>
<text x="175.6" y="14.4" fill="#ff7a0f" textLength="24.3" lengthAdjust="spacingAndGlyphs">日线</text>
<text x="201.3" y="14.4" fill="#ff7a0f">】</text>
<text x="92.5" y="414.7" fill="#111" textLength="74.2" lengthAdjust="spacingAndGlyphs">RSI(14,14,14)</text>
<text x="171.7" y="414.7" fill="#4f94f7" textLength="52.1" lengthAdjust="spacingAndGlyphs">RSI1:78.6</text>
<text x="232.6" y="414.7" fill="#4fc48c" textLength="52.2" lengthAdjust="spacingAndGlyphs">RSI2:78.6</text>
<text x="293.6" y="414.7" fill="#38a9e4" textLength="52.8" lengthAdjust="spacingAndGlyphs">RSI3:78.6</text>
<text x="92.4" y="545.5" fill="#111" textLength="85.5" lengthAdjust="spacingAndGlyphs">MACD(26,12,9)</text>
<text x="183.4" y="545.5" fill="#4f94f7" textLength="50.8" lengthAdjust="spacingAndGlyphs">DIFF:87.4</text>
<text x="243.2" y="545.5" fill="#4fc48c" textLength="49.6" lengthAdjust="spacingAndGlyphs">DEA:80.4</text>
<text x="301.5" y="545.5" fill="#38a9e4" textLength="62.5" lengthAdjust="spacingAndGlyphs">MACD:14.1</text>
<g fill="none" stroke="#ff8a2a" stroke-width="0.85"><circle cx="216.7" cy="11.5" r="4"/><path d="M212.7 11.5h8M216.7 7.5v8"/></g>
<g><rect x="230.5" y="2.5" width="12" height="12" fill="#9aa0b0" stroke="none"/><rect x="229.5" y="1.5" width="11" height="12" fill="#fff" stroke="#00007a"/><polyline points="230.5,8.5 233,4.5 235.5,7 238,4.5 240,5.5" fill="none" stroke="#e00" stroke-width="1"/><polyline points="230.5,11.5 233,7.5 235.5,10 238,7.5 240,8" fill="none" stroke="#00f" stroke-width="1"/></g>
<g class="ce">
<rect x="981.5" y="1.5" width="13" height="13" fill="#fff" stroke="#1673cc"/>
<rect x="997.5" y="1.5" width="13" height="13" fill="#fff" stroke="#1673cc"/>
<rect x="1013.5" y="1.5" width="13" height="13" fill="#1673cc" stroke="#1673cc"/>
<rect x="1029.5" y="1.5" width="13" height="13" fill="#fff" stroke="#1673cc"/>
</g>
<g fill="#1673cc" class="ce"><rect x="987" y="7" width="2" height="2"/><rect x="987" y="3" width="2" height="3"/><rect x="987" y="10" width="2" height="3"/><rect x="983" y="7" width="3" height="2"/><rect x="990" y="7" width="3" height="2"/></g>
<g class="ce" fill="#1673cc"><rect x="1000" y="3" width="1" height="10"/><rect x="999" y="11" width="10" height="1"/></g>
<g fill="#1673cc"><path d="M1000.5 2.2l1.7 2.3h-3.4z"/><path d="M1009.2 11.5l-2.3 -1.7v3.4zM998.6 11.5l2 -1.6v3.2z"/><path d="M1000.5 13.4l1.5 -1.9h-3z"/></g>
<g fill="#1673cc"><rect class="ce" x="1003" y="4" width="1" height="5"/><path d="M1004.2 6.5l3 -2.6v5.2z"/></g>
<g class="ce" fill="#fff"><rect x="1016" y="3" width="1" height="10"/><rect x="1015" y="11" width="10" height="1"/></g>
<g fill="#fff"><path d="M1016.5 2.2l1.7 2.3h-3.4z"/><path d="M1025.2 11.5l-2.3 -1.7v3.4zM1014.6 11.5l2 -1.6v3.2z"/><path d="M1016.5 13.4l1.5 -1.9h-3z"/></g>
<g fill="#fff"><rect class="ce" x="1018" y="4" width="1" height="6"/><path d="M1023.9 6.9l-4.4 -3v6z" fill-opacity="0.88"/></g>
<g fill="none" stroke="#1673cc" stroke-width="1"><path d="M1034.5 6v-2.5h-3v9h3v-2.5"/></g><path d="M1033.2 7h4.2v-1.9l3.3 2.8 -3.3 2.8v-1.9h-4.2z" fill="#1673cc"/>
<g class="ce"><rect x="1044.5" y="56.5" width="68" height="17" fill="#fff" stroke="#ff8a1c"/></g>
<text x="1047.6" y="68.7" fill="#ff8a1c">3873.3</text>
<path d="M1104 52l4 -4 4 4zM1104 56.5l4 -4 4 4z" fill="#ff8a1c"/>
<g><circle cx="29" cy="539" r="3.6" fill="#fff" stroke="#111" stroke-width="1"/><circle cx="29" cy="539" r="2.15" fill="#f00"/></g>
<g class="ce" fill="#f00">
<rect x="22" y="538" width="2" height="1"/>
<rect x="34" y="538" width="2" height="1"/>
<rect x="28" y="532" width="1" height="2"/>
<rect x="28" y="544" width="1" height="2"/>
<rect x="23" y="533" width="1" height="1"/>
<rect x="24" y="534" width="1" height="1"/>
<rect x="33" y="534" width="1" height="1"/>
<rect x="34" y="533" width="1" height="1"/>
<rect x="23" y="544" width="1" height="1"/>
<rect x="24" y="543" width="1" height="1"/>
<rect x="33" y="543" width="1" height="1"/>
<rect x="34" y="544" width="1" height="1"/>
</g>
<g class="ce">
<rect x="266" y="653" width="1" height="4" fill="#c3cddb"/>
<rect x="497" y="653" width="1" height="4" fill="#c3cddb"/>
<rect x="707" y="653" width="1" height="4" fill="#c3cddb"/>
</g>
<text x="268" y="665.2" fill="#1b2238" font-weight="bold" textLength="44.4" lengthAdjust="spacingAndGlyphs">2025/07</text>
<text x="498.5" y="665.2" fill="#1b2238" font-weight="bold" textLength="44.4" lengthAdjust="spacingAndGlyphs">2025/08</text>
<text x="708.5" y="665.2" fill="#1b2238" font-weight="bold" textLength="44.4" lengthAdjust="spacingAndGlyphs">2025/09</text>
<g class="ce"><rect x="20.5" y="652.5" width="69" height="19" fill="#fff" stroke="#c9d3dd"/></g>
<text x="34" y="668.5" fill="#ff7a0f" font-weight="bold" style="font-size:12.5px;letter-spacing:0.4px">日线</text>
<path d="M64 667l4.5 -8.5 4.5 8.5z" fill="#ff7a0f"/>
<g class="ce">
<rect x="20" y="672" width="39" height="16" fill="#ff6a00"/>
<rect x="59" y="673" width="1" height="15" fill="#c9d3dd"/>
<rect x="99" y="673" width="1" height="15" fill="#c9d3dd"/>
<rect x="158" y="673" width="1" height="15" fill="#c9d3dd"/>
<rect x="203" y="673" width="1" height="15" fill="#c9d3dd"/>
<rect x="231" y="673" width="1" height="15" fill="#c9d3dd"/>
<rect x="271" y="673" width="1" height="15" fill="#c9d3dd"/>
<rect x="299" y="673" width="1" height="15" fill="#c9d3dd"/>
<rect x="333" y="673" width="1" height="15" fill="#c9d3dd"/>
<rect x="367" y="673" width="1" height="15" fill="#c9d3dd"/>
<rect x="402" y="673" width="1" height="15" fill="#c9d3dd"/>
<rect x="435" y="673" width="1" height="15" fill="#c9d3dd"/>
<rect x="464" y="673" width="1" height="15" fill="#c9d3dd"/>
<rect x="497" y="673" width="1" height="15" fill="#c9d3dd"/>
<rect x="537" y="673" width="1" height="15" fill="#c9d3dd"/>
<rect x="571" y="673" width="1" height="15" fill="#c9d3dd"/>
<rect x="672" y="673" width="1" height="15" fill="#c9d3dd"/>
<rect x="711" y="673" width="1" height="15" fill="#c9d3dd"/>
<rect x="271" y="672" width="102" height="4" fill="#fff"/><rect x="271" y="672" width="102" height="1" fill="#e8edf2"/>
<rect x="276" y="673" width="1" height="3" fill="#f23a3a"/>
<rect x="286" y="673" width="1" height="3" fill="#f23a3a"/>
<rect x="296" y="673" width="1" height="3" fill="#f23a3a"/>
<rect x="306" y="673" width="1" height="3" fill="#f23a3a"/>
<rect x="316" y="673" width="1" height="3" fill="#f23a3a"/>
<rect x="326" y="673" width="1" height="3" fill="#f23a3a"/>
<rect x="336" y="673" width="1" height="3" fill="#f23a3a"/>
<rect x="346" y="673" width="1" height="3" fill="#f23a3a"/>
<rect x="356" y="673" width="1" height="3" fill="#f23a3a"/>
<rect x="366" y="673" width="1" height="3" fill="#f23a3a"/>
</g>
<text class="cj" x="28.0" y="684.4" fill="#fff" style="font-size:12px">指标</text>
<text class="cj" x="67.5" y="684.4" fill="#111" style="font-size:12px">模板</text>
<text x="108.3" y="682.9" fill="#ff7a0f" stroke="#ff7a0f" stroke-width="0.25" style="font-family:'Liberation Serif',serif;font-size:10.5px" textLength="17.4" lengthAdjust="spacingAndGlyphs">VIP</text>
<text class="cj" x="126.0" y="684.4" fill="#ff7a0f" style="font-size:12px">指标</text>
<text x="166.3" y="682.9" fill="#111" stroke="#111" stroke-width="0.25" style="font-family:'Liberation Serif',serif;font-size:10.5px" textLength="29.4" lengthAdjust="spacingAndGlyphs">EXPMA</text>
<text x="211.8" y="682.9" fill="#111" stroke="#111" stroke-width="0.25" style="font-family:'Liberation Serif',serif;font-size:10.5px" textLength="11.4" lengthAdjust="spacingAndGlyphs">MA</text>
<text x="239.8" y="682.9" fill="#111" stroke="#111" stroke-width="0.25" style="font-family:'Liberation Serif',serif;font-size:10.5px" textLength="23.4" lengthAdjust="spacingAndGlyphs">MACD</text>
<text x="279.8" y="682.9" fill="#111" stroke="#111" stroke-width="0.25" style="font-family:'Liberation Serif',serif;font-size:10.5px" textLength="11.4" lengthAdjust="spacingAndGlyphs">PP</text>
<text x="307.8" y="682.9" fill="#111" stroke="#111" stroke-width="0.25" style="font-family:'Liberation Serif',serif;font-size:10.5px" textLength="17.4" lengthAdjust="spacingAndGlyphs">PPS</text>
<text x="341.8" y="682.9" fill="#111" stroke="#111" stroke-width="0.25" style="font-family:'Liberation Serif',serif;font-size:10.5px" textLength="17.4" lengthAdjust="spacingAndGlyphs">CCI</text>
<text x="376.3" y="682.9" fill="#111" stroke="#111" stroke-width="0.25" style="font-family:'Liberation Serif',serif;font-size:10.5px" textLength="17.4" lengthAdjust="spacingAndGlyphs">KDJ</text>
<text x="410.3" y="682.9" fill="#111" stroke="#111" stroke-width="0.25" style="font-family:'Liberation Serif',serif;font-size:10.5px" textLength="17.4" lengthAdjust="spacingAndGlyphs">RSI</text>
<text x="444.3" y="682.9" fill="#111" stroke="#111" stroke-width="0.25" style="font-family:'Liberation Serif',serif;font-size:10.5px" textLength="11.4" lengthAdjust="spacingAndGlyphs">CR</text>
<text x="472.3" y="682.9" fill="#111" stroke="#111" stroke-width="0.25" style="font-family:'Liberation Serif',serif;font-size:10.5px" textLength="17.4" lengthAdjust="spacingAndGlyphs">PSY</text>
<text x="505.8" y="682.9" fill="#111" stroke="#111" stroke-width="0.25" style="font-family:'Liberation Serif',serif;font-size:10.5px" textLength="23.4" lengthAdjust="spacingAndGlyphs">BOLL</text>
<text x="545.8" y="682.9" fill="#111" stroke="#111" stroke-width="0.25" style="font-family:'Liberation Serif',serif;font-size:10.5px" textLength="17.4" lengthAdjust="spacingAndGlyphs">VOL</text>
<text x="580.3" y="682.9" fill="#111" stroke="#111" stroke-width="0.25" style="font-family:'Liberation Serif',serif;font-size:10.5px" textLength="83.4" lengthAdjust="spacingAndGlyphs">ICHIMOKU CLOUD</text>
<text class="cj" x="680.0" y="684.4" fill="#111" style="font-size:12px">设置</text>
<text x="984.3" y="662.8" style="font-size:32px;letter-spacing:1.35px;filter:drop-shadow(1px 1px 0 #b9a394)" fill="#dce8f6">FX678</text>
</svg>
</body></html>
